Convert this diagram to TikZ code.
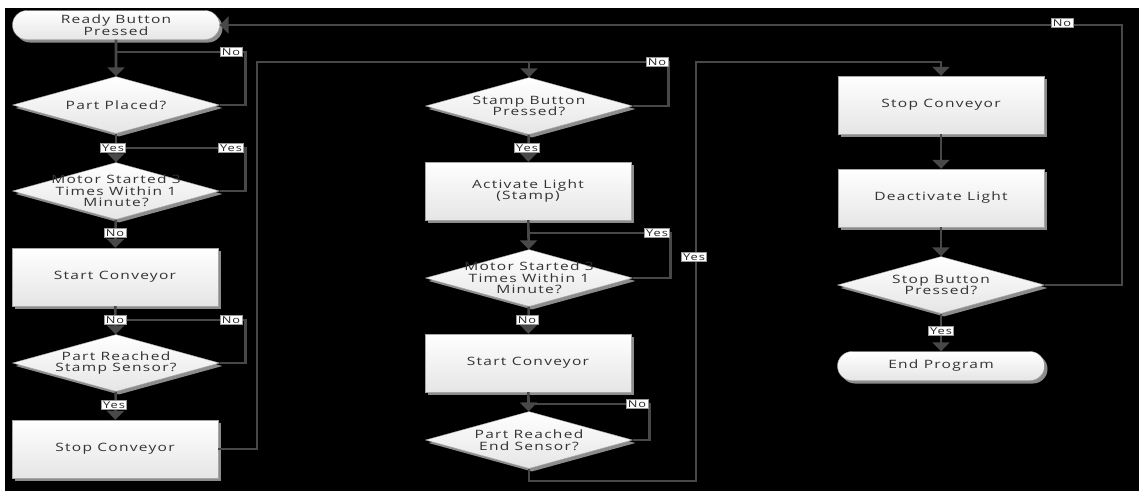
\documentclass[tikz,border=0pt]{standalone}
\usepackage{fontspec}
\setmainfont{Open Sans}[FakeStretch=1.35, LetterSpace=11]
\usetikzlibrary{shapes.geometric,shapes.misc,arrows.meta,shadows}
\definecolor{txt}{HTML}{333333}
\definecolor{ln}{HTML}{484848}
\tikzset{
  base/.style={draw=black!35, line width=0.4pt, top color=white, bottom color=black!10,
    drop shadow={shadow xshift=3pt, shadow yshift=-3pt, fill=black!45, opacity=1},
    text=txt, font=\fontsize{11.5}{11.5}\selectfont, align=center, inner sep=0pt},
  proc/.style={base, rectangle, minimum width=206pt, minimum height=58pt},
  term/.style={base, rounded rectangle, minimum width=207pt, minimum height=29pt},
  dec/.style={base, diamond, minimum width=207pt, minimum height=57pt},
  dtxt/.style={text=txt, font=\fontsize{11.5}{11.5}\selectfont, align=center, inner sep=0pt},
  conn/.style={draw=ln, line width=2.6pt},
  arr/.style={conn, -{Triangle[width=17pt,length=9pt]}},
  lab/.style={fill=white, draw=black!40, line width=0.3pt, text=black!85, inner xsep=1.5pt, inner ysep=1pt,
    font=\fontsize{9.5}{9.5}\selectfont}
}
\begin{document}
\begin{tikzpicture}[x=1pt,y=-1pt]
\fill[white] (0,0) rectangle (1139,491);
\fill[black] (5,8) rectangle (1139,491);
\useasboundingbox (0,0) rectangle (1139,491);

% column 1
\node[term] (ready) at (116,25) {Ready Button\\Pressed};
\node[dec, label={[dtxt]center:Part Placed?}] (pp) at (116,105) {};
\node[dec, label={[dtxt]center:{Motor Started 3\\Times Within 1\\Minute?}}] (ms1) at (116,191) {};
\node[proc] (sc1) at (115,277) {Start Conveyor};
\node[dec, label={[dtxt]center:{Part Reached\\Stamp Sensor?}}] (pr1) at (116,363) {};
\node[proc] (stop1) at (115,449) {Stop Conveyor};

% column 2
\node[dec, label={[dtxt]center:{Stamp Button\\Pressed?}}] (sb) at (529,106) {};
\node[proc] (al) at (528,191) {Activate Light\\(Stamp)};
\node[dec, label={[dtxt]center:{Motor Started 3\\Times Within 1\\Minute?}}] (ms2) at (529,278) {};
\node[proc] (sc2) at (528,363) {Start Conveyor};
\node[dec, label={[dtxt]center:{Part Reached\\End Sensor?}}] (pr2) at (529,440) {};

% column 3
\node[proc] (stop3) at (941,105) {Stop Conveyor};
\node[proc] (deact) at (941,198) {Deactivate Light};
\node[dec, label={[dtxt]center:{Stop Button\\Pressed?}}] (spb) at (941,285) {};
\node[term] (endp) at (941,366) {End Program};

% junction coordinates
\coordinate (j1) at (116,52);
\coordinate (j2) at (116,148);
\coordinate (j3) at (116,320);
\coordinate (t2) at (529,62);
\coordinate (c1) at (257,62);
\coordinate (j5) at (529,233);
\coordinate (j6) at (529,404);
\coordinate (c3) at (529,481);
\coordinate (c4) at (696,481);
\coordinate (c5) at (696,62);
\coordinate (c6) at (941,62);
\coordinate (c7) at (1122,25);

% column 1 connectors
\draw[arr] (ready) -- (pp);
\draw[conn] (pp.east) -- ++(26,0) |- (j1);
\draw[arr] (pp) -- (ms1);
\draw[conn] (ms1.east) -- ++(26,0) |- (j2);
\draw[arr] (ms1) -- (sc1);
\draw[arr] (sc1) -- (pr1);
\draw[conn] (pr1.east) -- ++(26,0) |- (j3);
\draw[arr] (pr1) -- (stop1);
\draw[arr] (stop1.east) -| (c1) -- (t2) -- (sb.north);

% column 2 connectors
\draw[conn] (sb.east) -- ++(36,0) |- (t2);
\draw[arr] (sb) -- (al);
\draw[arr] (al) -- (ms2);
\draw[conn] (ms2.east) -- ++(38,0) |- (j5);
\draw[arr] (ms2) -- (sc2);
\draw[arr] (sc2) -- (pr2);
\draw[conn] (pr2.east) -- ++(17,0) |- (j6);
\draw[arr] (pr2.south) -- (c3) -- (c4) -- (c5) -- (c6) -- (stop3.north);

% column 3 connectors
\draw[arr] (stop3) -- (deact);
\draw[arr] (deact) -- (spb);
\draw[arr] (spb.east) -| (c7) -- (ready.east);
\draw[arr] (spb) -- (endp);

% connector labels
\node[lab] (l1) at (231,52) {No};
\node[lab] (l2) at (113,148) {Yes};
\node[lab] (l3) at (231,148) {Yes};
\node[lab] (l4) at (115,233) {No};
\node[lab] (l5) at (115,320) {No};
\node[lab] (l6) at (231,320) {No};
\node[lab] (l7) at (114,405) {Yes};
\node[lab] (l8) at (657,62) {No};
\node[lab] (l9) at (527,148) {Yes};
\node[lab] (l10) at (657,233) {Yes};
\node[lab] (l11) at (694,257) {Yes};
\node[lab] (l12) at (527,320) {No};
\node[lab] (l13) at (637,404) {No};
\node[lab] (l14) at (1062,23) {No};
\node[lab] (l15) at (941,331) {Yes};
\end{tikzpicture}
\end{document}
